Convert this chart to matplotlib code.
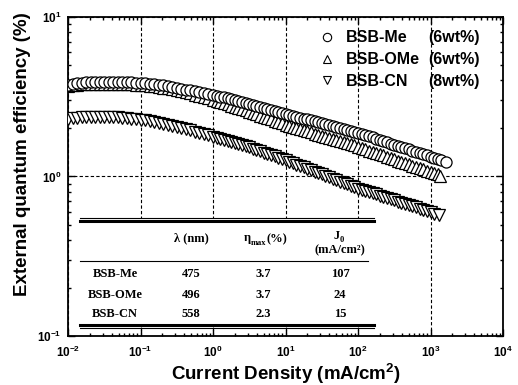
import matplotlib
matplotlib.use("Agg")  # Headless backend
import matplotlib.pyplot as plt
from matplotlib.lines import Line2D
from matplotlib.patches import Rectangle
from matplotlib.ticker import NullFormatter, LogLocator

# ============================================================
# EQE vs current density for the three BSB dopants
# Output: out.png (518 x 385 px)
# ============================================================

# current density grid (mA/cm2)
J = [0.0100, 0.01155, 0.01334, 0.0154, 0.01778, 0.02054, 0.02371, 0.02738,
     0.03162, 0.03652, 0.04217, 0.0487, 0.05623, 0.06494, 0.07499, 0.0866,
     0.1, 0.1155, 0.1334, 0.154, 0.1778, 0.2054, 0.2371, 0.2738,
     0.3162, 0.3652, 0.4217, 0.487, 0.5623, 0.6494, 0.7499, 0.866,
     1.0, 1.122, 1.259, 1.413, 1.585, 1.778, 1.995, 2.239, 2.512, 2.818,
     3.162, 3.548, 3.981, 4.467, 5.012, 5.623, 6.31, 7.079, 7.943, 8.913,
     10, 11.22, 12.59, 14.13, 15.85, 17.78, 19.95, 22.39, 25.12, 28.18,
     31.62, 35.48, 39.81, 44.67, 50.12, 56.23, 63.1, 70.79, 79.43, 89.13,
     100, 112.2, 125.9, 141.3, 158.5, 177.8, 199.5, 223.9, 251.2, 281.8,
     316.2, 354.8, 398.1, 446.7, 501.2, 562.3, 631, 707.9, 794.3, 891.3,
     1000]
J_ME = J + [1122, 1259, 1413, 1640]
J_OME = J + [1122, 1259, 1350]
J_CN = J + [1122, 1290]

# external quantum efficiency (%)
EQE_ME = [3.76, 3.80, 3.84, 3.87, 3.90, 3.91, 3.92, 3.92,
          3.92, 3.92, 3.92, 3.91, 3.90, 3.895, 3.89, 3.88,
          3.87, 3.84, 3.81, 3.785, 3.76, 3.72, 3.68, 3.64,
          3.60, 3.555, 3.51, 3.47, 3.43, 3.39, 3.35, 3.30,
          3.25, 3.21, 3.17, 3.13, 3.09, 3.05, 3.01, 2.97, 2.93, 2.895,
          2.86, 2.82, 2.78, 2.74, 2.70, 2.66, 2.62, 2.585, 2.55, 2.515,
          2.48, 2.445, 2.41, 2.375, 2.34, 2.31, 2.28, 2.25, 2.22, 2.19,
          2.16, 2.13, 2.10, 2.075, 2.05, 2.02, 1.99, 1.965, 1.94, 1.91,
          1.88, 1.85, 1.82, 1.79, 1.76, 1.73, 1.70, 1.67, 1.64, 1.61,
          1.585, 1.555, 1.53, 1.505, 1.48, 1.455, 1.43, 1.405, 1.38, 1.355,
          1.33, 1.31, 1.29, 1.27, 1.24]
EQE_OME = [3.70, 3.73, 3.76, 3.78, 3.80, 3.805, 3.81, 3.81,
           3.81, 3.81, 3.81, 3.805, 3.80, 3.79, 3.78, 3.77,
           3.76, 3.73, 3.70, 3.67, 3.64, 3.61, 3.58, 3.54,
           3.49, 3.44, 3.38, 3.32, 3.26, 3.20, 3.14, 3.085,
           3.03, 2.98, 2.93, 2.88, 2.83, 2.78, 2.73, 2.685, 2.64, 2.595,
           2.55, 2.50, 2.45, 2.405, 2.36, 2.32, 2.28, 2.235, 2.19, 2.15,
           2.11, 2.08, 2.05, 2.015, 1.98, 1.95, 1.92, 1.89, 1.86, 1.83,
           1.80, 1.775, 1.75, 1.72, 1.69, 1.665, 1.64, 1.615, 1.59, 1.565,
           1.54, 1.51, 1.48, 1.455, 1.43, 1.405, 1.38, 1.355, 1.33, 1.305,
           1.28, 1.255, 1.23, 1.21, 1.19, 1.17, 1.15, 1.13, 1.11, 1.09,
           1.07, 1.05, 1.03, 1.01]
EQE_CN = [2.30, 2.32, 2.34, 2.35, 2.36, 2.365, 2.37, 2.37,
          2.37, 2.365, 2.36, 2.35, 2.34, 2.32, 2.30, 2.285,
          2.27, 2.245, 2.22, 2.195, 2.17, 2.14, 2.11, 2.08,
          2.05, 2.015, 1.98, 1.945, 1.91, 1.875, 1.84, 1.81,
          1.78, 1.75, 1.72, 1.695, 1.67, 1.645, 1.62, 1.595, 1.57, 1.545,
          1.52, 1.49, 1.46, 1.435, 1.41, 1.385, 1.36, 1.335, 1.31, 1.285,
          1.26, 1.235, 1.21, 1.185, 1.16, 1.14, 1.116, 1.093, 1.07, 1.05,
          1.03, 1.01, 0.99, 0.97, 0.95, 0.93, 0.91, 0.893, 0.876, 0.858,
          0.84, 0.825, 0.81, 0.797, 0.785, 0.772, 0.76, 0.745, 0.73, 0.72,
          0.71, 0.697, 0.684, 0.672, 0.66, 0.65, 0.64, 0.628, 0.617, 0.606,
          0.596, 0.585, 0.57]

NAMES = ["BSB-Me", "BSB-OMe", "BSB-CN"]
CONC = ["(6wt%)", "(6wt%)", "(8wt%)"]
MARKERS = ["o", "^", "v"]

# inset table
LAMBDA_NM = ["475", "496", "558"]
ETA_MAX = ["3.7", "3.7", "2.3"]
J0 = ["107", "24", "15"]

# axis ticks
X_TICKS = [1e-2, 1e-1, 1e0, 1e1, 1e2, 1e3, 1e4]
Y_TICKS = [1e-1, 1e0, 1e1]

# pixel geometry of the axes box
W, H = 518, 385
L, R, B, T = 68, 503, 336, 17


def axf(px, py):
    """pixel position in the picture -> axes fraction"""
    return (px - L) / (R - L), (B - py) / (B - T)


plt.rcParams.update({
    "font.family": "Liberation Sans",
    "font.weight": "bold",
    "axes.linewidth": 1.3,
})

fig = plt.figure(figsize=(W / 100, H / 100), dpi=100, facecolor="white")
ax = fig.add_axes([L / W, 1 - B / H, (R - L) / W, (B - T) / H])

mk = dict(ls="none", mfc="white", mec="black", mew=0.9)
ax.plot(J_CN, EQE_CN, marker="v", ms=8.5, zorder=3, **mk)
ax.plot(J_OME, EQE_OME, marker="^", ms=8.5, zorder=3, **mk)
ax.plot(J_ME, EQE_ME, marker="o", ms=8, zorder=3, **mk)

ax.set_xscale("log")
ax.set_yscale("log")
ax.set_xlim(1e-2, 1e4)
ax.set_ylim(1e-1, 1e1)
ax.set_xticks(X_TICKS)
ax.set_yticks(Y_TICKS)
ax.xaxis.set_minor_locator(LogLocator(base=10, subs=range(2, 10), numticks=20))
ax.yaxis.set_minor_locator(LogLocator(base=10, subs=range(2, 10), numticks=20))
ax.xaxis.set_minor_formatter(NullFormatter())
ax.yaxis.set_minor_formatter(NullFormatter())

ax.set_axisbelow(True)
ax.grid(True, which="major", ls=(0, (3, 2)), lw=0.8, color="black")

ax.tick_params(which="both", direction="in", top=True, right=True, width=1)
ax.tick_params(which="major", length=5, labelsize=8.5)
ax.tick_params(axis="x", which="major", pad=6)
ax.tick_params(axis="y", which="major", pad=5)
for lab in ax.get_xticklabels() + ax.get_yticklabels():
    lab.set_fontweight("bold")

ax.set_xlabel("Current Density (mA/cm$\\mathregular{^2}$)", fontsize=13.5,
              fontweight="bold", labelpad=2)
ax.set_ylabel("External quantum efficiency (%)", fontsize=13.5,
              fontweight="bold")
ax.yaxis.set_label_coords(-0.085, 0.57)

# ---- inset table -------------------------------------------------------
x0, y0 = axf(80, 327)
x1, y1 = axf(374, 219)
ax.add_patch(Rectangle((x0, y0), x1 - x0, y1 - y0, transform=ax.transAxes,
                       fc="white", ec="none", zorder=1))


def hline(py, lw, px0=80, px1=374):
    xa, ya = axf(px0, py)
    xb, _ = axf(px1, py)
    ax.add_line(Line2D([xa, xb], [ya, ya], transform=ax.transAxes,
                       color="black", lw=lw, zorder=2))


hline(217.5, 0.8)
hline(220.5, 2.2)
hline(261, 0.8, 80, 368)
hline(324.5, 2.2)
hline(327.5, 0.8)

tfont = dict(family="Liberation Serif", fontweight="bold", fontsize=9,
             transform=ax.transAxes, ha="center", va="center", zorder=4)
col_x = [115, 191, 263, 340]
row_y = [274, 295, 314]

ax.text(*axf(col_x[1], 238), "λ (nm)", **tfont)
eta = ax.text(*axf(col_x[2] - 16, 238), "η", **tfont)
sub = ax.annotate("max", xy=(1, 0.1), xycoords=eta, ha="left", va="center",
                  family="Liberation Serif", fontweight="bold", fontsize=6)
ax.annotate("(%)", xy=(1, 0.9), xycoords=sub, ha="left", va="center",
            family="Liberation Serif", fontweight="bold", fontsize=9)
jj = ax.text(*axf(col_x[3] - 3, 236), "J", **tfont)
ax.annotate("0", xy=(1, 0.15), xycoords=jj, ha="left", va="center",
            family="Liberation Serif", fontweight="bold", fontsize=6)
ax.text(*axf(col_x[3], 250), "(mA/cm²)", **tfont)

for i, name in enumerate(NAMES):
    yy = row_y[i]
    ax.text(*axf(col_x[0], yy), name, **tfont)
    ax.text(*axf(col_x[1], yy), LAMBDA_NM[i], **tfont)
    ax.text(*axf(col_x[2], yy), ETA_MAX[i], **tfont)
    ax.text(*axf(col_x[3], yy), J0[i], **tfont)

# ---- legend --------------------------------------------------------------
handles = [Line2D([], [], ls="none", marker=m, ms=6, mfc="white",
                  mec="black", mew=0.8) for m in MARKERS]
leg = ax.legend(handles, NAMES, loc="upper left",
                bbox_to_anchor=axf(320.6, 30.5), frameon=False,
                borderpad=0, borderaxespad=0, handlelength=0.8,
                handletextpad=0.8, labelspacing=0.42,
                prop=dict(family="Liberation Sans", weight="bold", size=11.5))

fig.canvas.draw()
inv = ax.transAxes.inverted()
for txt, conc in zip(leg.get_texts(), CONC):
    bb = txt.get_window_extent()
    _, yc = inv.transform((bb.x0, (bb.y0 + bb.y1) / 2))
    ax.text(axf(428, 0)[0], yc, conc, transform=ax.transAxes,
            ha="left", va="center", fontsize=11.5, fontweight="bold")

fig.savefig("out.png", dpi=100)
plt.close(fig)
